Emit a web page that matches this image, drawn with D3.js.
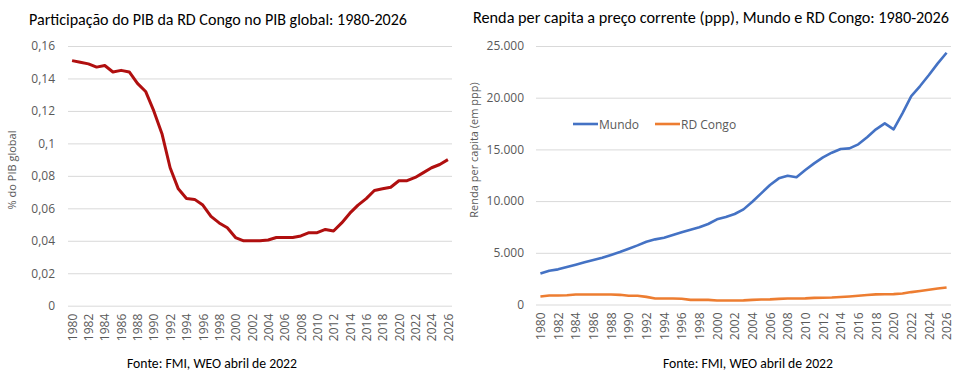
<!DOCTYPE html>
<html>
<head>
<meta charset="utf-8">
<script src="https://cdn.jsdelivr.net/npm/d3@7"></script>
<style>
  body { margin: 0; background: #fff; }
  svg { display: block; }
</style>
</head>
<body>
<script>
// anos 1980-2026
let years = d3.range(1980, 2027)
let yearTicks = years.filter(y => y % 2 === 0)

// participação do PIB da RD Congo no PIB global (%)
let pibShare = [0.151, 0.150, 0.149, 0.147, 0.148, 0.144, 0.145, 0.144, 0.137, 0.132,
    0.120, 0.106, 0.085, 0.072, 0.066, 0.0655, 0.062, 0.055, 0.051, 0.048,
    0.042, 0.040, 0.040, 0.040, 0.0405, 0.042, 0.042, 0.042, 0.043, 0.045,
    0.045, 0.047, 0.046, 0.051, 0.057, 0.062, 0.066, 0.071, 0.072, 0.073,
    0.077, 0.077, 0.079, 0.082, 0.085, 0.087, 0.090]
let pibTicks = [0, 0.02, 0.04, 0.06, 0.08, 0.1, 0.12, 0.14, 0.16]

// renda per capita (ppp)
let mundo = [3000, 3270, 3400, 3630, 3850, 4080, 4300, 4525, 4790, 5075,
    5400, 5720, 6070, 6300, 6460, 6720, 6980, 7235, 7465, 7785,
    8240, 8460, 8750, 9200, 9940, 10750, 11550, 12200, 12450, 12300,
    13000, 13650, 14230, 14680, 15040, 15100, 15490, 16170, 16940, 17520,
    16940, 18490, 20160, 21130, 22190, 23320, 24350]
let congo = [780, 870, 870, 900, 970, 970, 970, 970, 970, 935,
    840, 840, 740, 580, 580, 580, 550, 450, 450, 450,
    380, 380, 380, 400, 450, 480, 500, 540, 580, 580,
    590, 640, 650, 670, 720, 780, 850, 920, 980, 990,
    1000, 1060, 1200, 1310, 1430, 1540, 1650]
let rendaTicks = [0, 5000, 10000, 15000, 20000, 25000]
let seriesNames = ["Mundo", "RD Congo"]

let w = 962
let h = 377
let cvs = setCanvas(w, h)

let ptFormat = d3.formatLocale({decimal: ",", thousands: ".", grouping: [3], currency: ["", ""]})

// ---------- gráfico da esquerda ----------
let left = {x0: 68, x1: 452, y0: 305.7, y1: 46}
let xL = d3.scalePoint().domain(years).range([left.x0, left.x1]).padding(0.5)
let yL = d3.scaleLinear().domain([0, 0.16]).range([left.y0, left.y1])

title(cvs, 29, 25, "Participação do PIB da RD Congo no PIB global: 1980-2026", 378)
drawYAxis(cvs, yL, pibTicks, left, d => String(+d.toFixed(2)).replace(".", ","), 13)
drawXAxis(cvs, xL, left)
axisTitle(cvs, 16, 170, "% do PIB global")

cvs.append("path")
    .datum(pibShare)
    .attr("fill", "none")
    .attr("stroke", "#b00f0f")
    .attr("stroke-width", 3)
    .attr("stroke-linejoin", "round")
    .attr("d", d3.line().x((d, i) => xL(years[i])).y(d => yL(d)))

source(cvs, 212, 368)

// ---------- gráfico da direita ----------
let right = {x0: 536, x1: 951, y0: 304.5, y1: 46}
let xR = d3.scalePoint().domain(years).range([right.x0, right.x1]).padding(0.5)
let yR = d3.scaleLinear().domain([0, 25000]).range([right.y0, right.y1])

title(cvs, 473, 23, "Renda per capita a preço corrente (ppp),  Mundo e RD Congo: 1980-2026", 476)
drawYAxis(cvs, yR, rendaTicks, right, ptFormat.format(",d"), 12)
drawXAxis(cvs, xR, right)
axisTitle(cvs, 478, 150, "Renda per capita (em ppp)")

let rendaColors = ["#4472c4", "#ed7d31"]
;[mundo, congo].forEach((s, k) => {
    cvs.append("path")
        .datum(s)
        .attr("fill", "none")
        .attr("stroke", rendaColors[k])
        .attr("stroke-width", 2.6)
        .attr("stroke-linejoin", "round")
        .attr("d", d3.line().x((d, i) => xR(years[i])).y(d => yR(d)))
})

// legenda
let legX = [573, 655]
seriesNames.forEach((n, k) => {
    let g = cvs.append("g").attr("transform", `translate(${legX[k]},124)`)
    g.append("line")
        .attr("x1", 0).attr("x2", 25)
        .attr("stroke", rendaColors[k])
        .attr("stroke-width", 2.6)
    g.append("text")
        .attr("x", 26)
        .attr("y", 4.5)
        .attr("fill", "#595959")
        .style("font", "12px 'Open Sans'")
        .text(n)
})

source(cvs, 748, 368)

function drawYAxis(svg, y, ticks, box, fmt, pad) {
    let g = svg.append("g")
        .attr("transform", `translate(${box.x0},0)`)
        .call(d3.axisLeft(y).tickValues(ticks).tickFormat(fmt)
            .tickSize(-(box.x1 - box.x0)).tickPadding(pad))
    g.select(".domain").remove()
    g.selectAll(".tick line").attr("stroke", "#d9d9d9")
    g.selectAll(".tick text")
        .attr("fill", "#595959")
        .style("font", "12px 'Open Sans'")
}

function drawXAxis(svg, x, box) {
    let g = svg.append("g")
        .attr("transform", `translate(0,${box.y0})`)
        .call(d3.axisBottom(x).tickValues(yearTicks).tickSize(0))
    g.select(".domain").remove()
    g.selectAll(".tick text")
        .attr("fill", "#595959")
        .style("font", "12px 'Open Sans'")
        .attr("text-anchor", "end")
        .attr("transform", "rotate(-90)")
        .attr("x", -8)
        .attr("y", 0)
        .attr("dy", "0.35em")
}

function title(svg, x, y, t, len) {
    svg.append("text")
        .attr("x", x)
        .attr("y", y)
        .attr("fill", "#000")
        .attr("textLength", len)
        .attr("lengthAdjust", "spacingAndGlyphs")
        .style("font", "16px Carlito, Lato, sans-serif")
        .text(t)
}

function axisTitle(svg, x, y, t) {
    svg.append("text")
        .attr("transform", `translate(${x},${y}) rotate(-90)`)
        .attr("text-anchor", "middle")
        .attr("fill", "#595959")
        .style("font", "11px 'Open Sans'")
        .text(t)
}

function source(svg, x, y) {
    svg.append("text")
        .attr("x", x)
        .attr("y", y)
        .attr("text-anchor", "middle")
        .attr("fill", "#000")
        .attr("textLength", 170)
        .attr("lengthAdjust", "spacingAndGlyphs")
        .style("font", "15px Carlito, Lato, sans-serif")
        .text("Fonte: FMI, WEO abril de 2022")
}

function setCanvas(w, h) {
    return d3.select("body")
        .append("svg")
        .attr("width", w)
        .attr("height", h)
}
</script>
</body>
</html>
